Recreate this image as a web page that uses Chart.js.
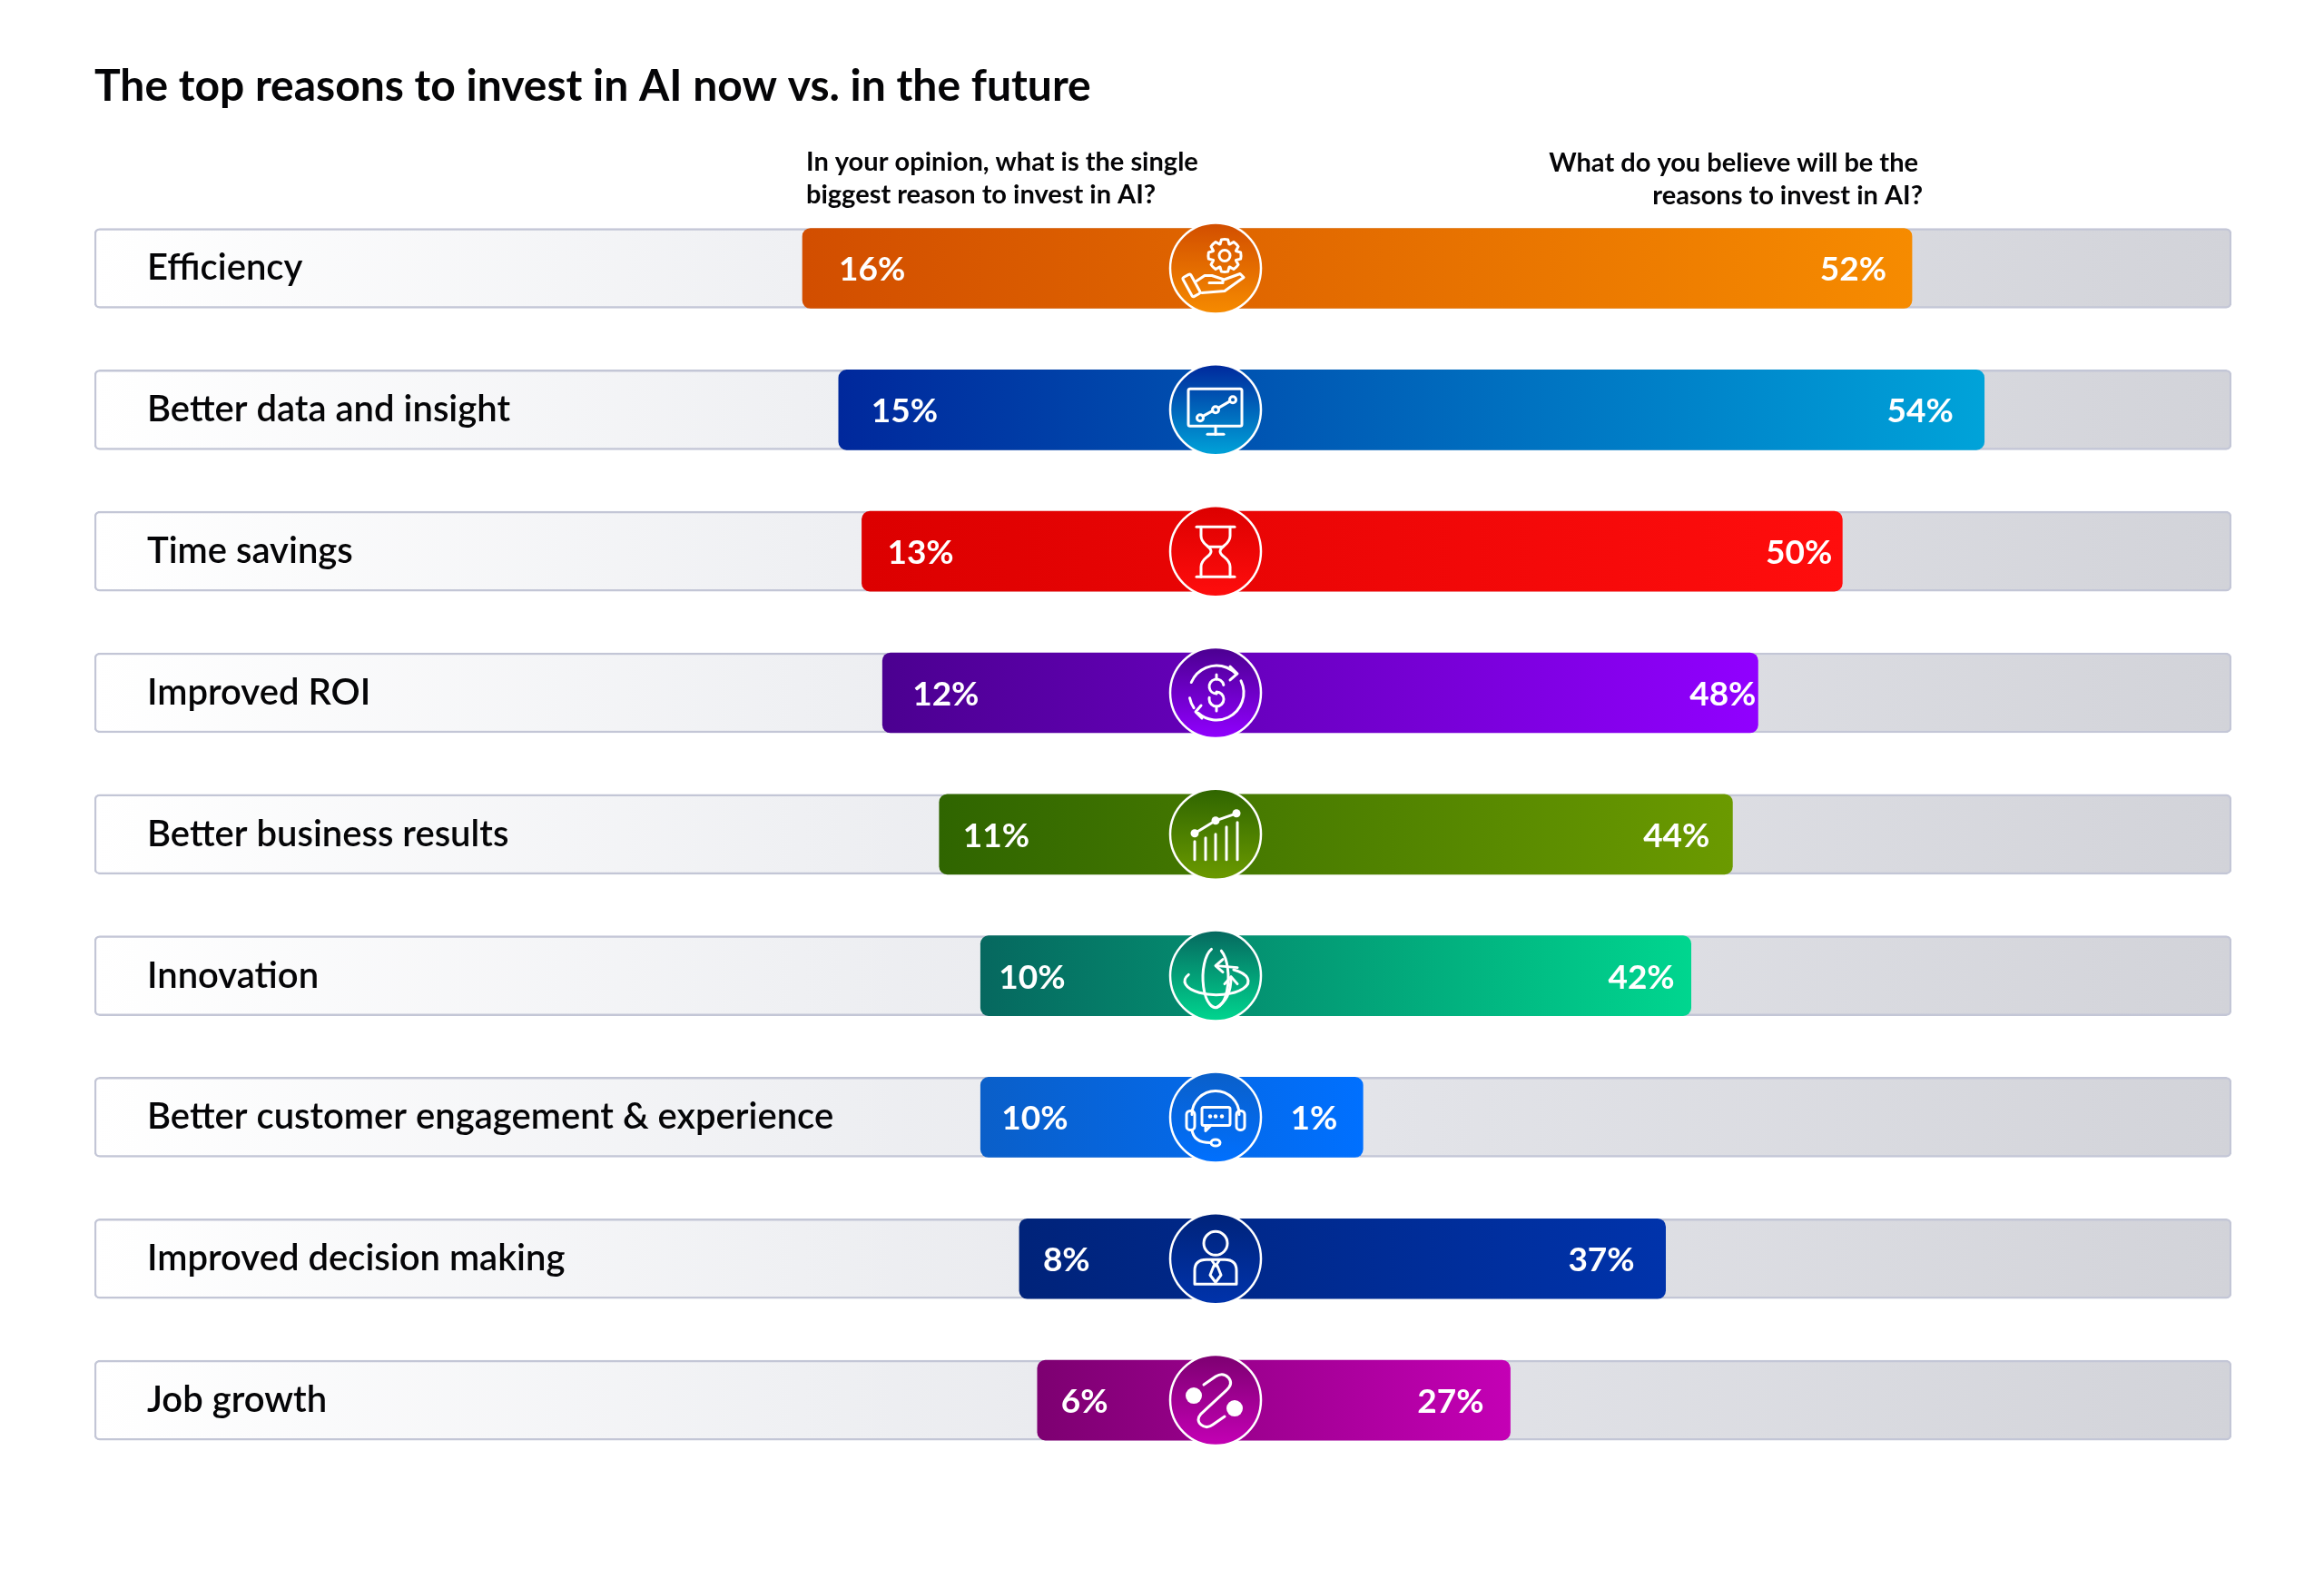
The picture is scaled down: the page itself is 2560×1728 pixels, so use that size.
<!DOCTYPE html>
<html>
<head>
<meta charset="utf-8">
<title>The top reasons to invest in AI now vs. in the future</title>
<script src="https://cdn.jsdelivr.net/npm/chart.js@4"></script>
<style>
    html, body { margin: 0; padding: 0; background: #fff; }
    canvas { display: block; }
</style>
</head>
<body>
<canvas id="chart" width="2560" height="1728"></canvas>
<script>
const categories = [
    "Efficiency",
    "Better data and insight",
    "Time savings",
    "Improved ROI",
    "Better business results",
    "Innovation",
    "Better customer engagement & experience",
    "Improved decision making",
    "Job growth"
];

// printed percentages
const nowLabels = [16, 15, 13, 12, 11, 10, 10, 8, 6];
const futureLabels = [52, 54, 50, 48, 44, 42, 1, 37, 27];

// the infographic's bars are not to scale with what is printed on them,
// so these are the bar lengths, in axis units
const nowBars = [16, 14.6, 13.7, 12.9, 10.7, 9.1, 9.1, 7.6, 6.9];
const futureBars = [52, 57.4, 46.8, 40.5, 38.6, 35.5, 11, 33.6, 22];

const nowQuestion = ["In your opinion, what is the single", "biggest reason to invest in AI?"];
const futureQuestion = ["What do you believe will be the", "reasons to invest in AI?"];

// styles, one per row
const startColors = ["#d24e00", "#00289c", "#dc0000", "#4b0090", "#2f6500", "#06685f", "#0a5fc9", "#00237a", "#7d0071"];
const endColors = ["#f68b00", "#00a3d9", "#ff0d0d", "#9100ff", "#6b9a00", "#00d68f", "#0070ff", "#0033ab", "#c400b5"];
const nowInset = [40, 36, 28, 33, 26, 20, 23, 26, 26];
const futureInset = [28, 34, 11, 2, 25, 18, 28, 34, 29];

const FONT = "Lato, 'Noto Sans', sans-serif";
const INK = "#050507";

// axis limits: both axes share the same zero, the "future" side is drawn at about half the scale
const NOW_MIN = -43.43, NOW_MAX = 39.35;
const FUT_MIN = -83.73, FUT_MAX = 75.86;

function barGradient(context) {
    const chart = context.chart;
    const i = context.dataIndex;
    if (i === undefined || !chart.scales.x) return startColors[0];
    const x0 = chart.scales.x.getPixelForValue(-nowBars[i]);
    const x1 = chart.scales.xFuture.getPixelForValue(futureBars[i]);
    if (!Number.isFinite(x0) || !Number.isFinite(x1)) return startColors[i];
    const g = chart.ctx.createLinearGradient(x0, 0, x1, 0);
    g.addColorStop(0, startColors[i]);
    g.addColorStop(1, endColors[i]);
    return g;
}

function trackGradient(context) {
    const area = context.chart.chartArea;
    if (!area || !Number.isFinite(area.left)) return "#e4e5ea";
    const g = context.chart.ctx.createLinearGradient(area.left, 0, area.right, 0);
    g.addColorStop(0, "#ffffff");
    g.addColorStop(0.33, "#eff0f3");
    g.addColorStop(0.6, "#e3e4e9");
    g.addColorStop(1, "#d2d3d9");
    return g;
}

// icon drawing, local coordinates around the circle centre
function line(c, pts) {
    c.beginPath();
    pts.forEach((p, k) => k ? c.lineTo(p[0], p[1]) : c.moveTo(p[0], p[1]));
    c.stroke();
}
function ring(c, x, y, r) {
    c.beginPath();
    c.arc(x, y, r, 0, Math.PI * 2);
    c.stroke();
}
function dot(c, x, y, r) {
    c.beginPath();
    c.arc(x, y, r, 0, Math.PI * 2);
    c.fill();
}
function box(c, x, y, w, h, r) {
    c.beginPath();
    c.roundRect(x, y, w, h, r);
    c.stroke();
}

const icons = [
    function gearHand(c) {
        ring(c, 10, -14, 6);
        c.save();
        c.translate(10, -14);
        c.beginPath();
        for (let k = 0; k < 8; k++) {
            const a = k * Math.PI / 4;
            const w = 0.2;
            c.arc(0, 0, 18, a - w, a + w);
            c.arc(0, 0, 13.5, a + w + 0.18, a + Math.PI / 4 - w - 0.18);
        }
        c.closePath();
        c.stroke();
        c.restore();
        c.save();
        c.translate(-27, 18);
        c.rotate(-0.5);
        box(c, -5, -11, 10, 24, 2);
        c.restore();
        line(c, [[-21, 14], [-12, 8], [-4, 8], [8, 12], [8, 16], [-7, 16]]);
        line(c, [[8, 13], [27, 6], [31, 10], [10, 25], [-15, 27]]);
    },
    function monitor(c) {
        box(c, -30, -23, 59, 41, 2);
        line(c, [[0, 18], [0, 27]]);
        line(c, [[-9, 27], [9, 27]]);
        line(c, [[-14, 7], [-3, 1]]);
        line(c, [[3, -2], [15, -9]]);
        ring(c, -17, 9, 3.5);
        ring(c, 0, 0, 3.5);
        ring(c, 19, -11, 3.5);
    },
    function hourglass(c) {
        line(c, [[-21, -27], [21, -27]]);
        line(c, [[-21, 28], [21, 28]]);
        [-1, 1].forEach(s => {
            c.beginPath();
            c.moveTo(s * 16, -27);
            c.lineTo(s * 16, -17);
            c.bezierCurveTo(s * 16, -7, s * 5, -6, s * 5, 0);
            c.bezierCurveTo(s * 5, 6, s * 16, 7, s * 16, 17);
            c.lineTo(s * 16, 28);
            c.stroke();
        });
        line(c, [[-8, -5], [8, -5]]);
    },
    function dollar(c) {
        c.beginPath();
        c.arc(1, 0, 30, -2.75, -0.75);
        c.stroke();
        c.beginPath();
        c.arc(1, 0, 30, -0.45, 2.3);
        c.stroke();
        c.beginPath();
        c.arc(1, 0, 30, 2.55, 2.95);
        c.stroke();
        line(c, [[16, -29], [24, -21], [16, -14]]);
        line(c, [[-16, 14], [-22, 21], [-15, 28]]);
        // the S of the dollar sign
        c.beginPath();
        c.arc(1, -7, 8, -0.2, Math.PI / 2, true);
        c.arc(1, 7, 8, -Math.PI / 2, Math.PI + 0.2);
        c.stroke();
        line(c, [[1, -20], [1, -15]]);
        line(c, [[1, 15], [1, 20]]);
    },
    function growth(c) {
        [[-23, 8], [-11, 4], [0, 0], [12, -8], [24, -13]].forEach(b => line(c, [[b[0], 28], [b[0], b[1]]]));
        line(c, [[-23, -1], [0, -15], [23, -23]]);
        dot(c, -23, -1, 4.5);
        dot(c, 0, -15, 4.5);
        dot(c, 23, -23, 4.5);
    },
    function orbit(c) {
        // upright ring, open at the upper right
        c.beginPath();
        c.ellipse(0, 2, 14, 33, 0, -1.1, Math.PI * 2 - 1.9);
        c.stroke();
        // flat ring, open at the upper left
        c.beginPath();
        c.ellipse(1, 6, 35, 15, 0, -1.0, Math.PI + 0.5);
        c.stroke();
        line(c, [[24, -9], [1, -11]]);
        line(c, [[8, -18], [0, -11], [8, -4]]);
        c.beginPath();
        c.moveTo(1, 35);
        c.quadraticCurveTo(17, 26, 17, 2);
        c.stroke();
        line(c, [[10, 9], [17, 1], [24, 9]]);
    },
    function headset(c) {
        c.beginPath();
        c.arc(0, -3, 26, Math.PI, 0);
        c.stroke();
        box(c, -32, -7, 9, 21, 4);
        box(c, 23, -7, 9, 21, 4);
        box(c, -15, -11, 31, 20, 2);
        line(c, [[-11, 9], [-11, 15], [-5, 9]]);
        dot(c, -6, -1, 2.2);
        dot(c, 0, -1, 2.2);
        dot(c, 7, -1, 2.2);
        c.beginPath();
        c.moveTo(-26, 14);
        c.quadraticCurveTo(-24, 28, -6, 28);
        c.stroke();
        c.beginPath();
        c.ellipse(0, 28, 5, 3.5, 0, 0, Math.PI * 2);
        c.stroke();
    },
    function person(c) {
        ring(c, 0, -17, 13);
        c.beginPath();
        c.moveTo(-23, 28);
        c.lineTo(-23, 13);
        c.quadraticCurveTo(-23, 1, -10, 1);
        c.lineTo(10, 1);
        c.quadraticCurveTo(23, 1, 23, 13);
        c.lineTo(23, 28);
        c.closePath();
        c.stroke();
        line(c, [[-4, 2], [0, 8], [4, 2]]);
        line(c, [[-2, 8], [-6, 18], [0, 26], [6, 18], [2, 8]]);
    },
    function pathLink(c) {
        dot(c, -24, -5, 9);
        dot(c, 21, 9, 9);
        c.beginPath();
        c.moveTo(-13, -17);
        c.lineTo(0, -26);
        c.quadraticCurveTo(8, -31, 14, -25);
        c.quadraticCurveTo(20, -18, 12, -11);
        c.lineTo(-16, 15);
        c.quadraticCurveTo(-22, 22, -16, 27);
        c.quadraticCurveTo(-10, 32, -3, 27);
        c.lineTo(10, 18);
        c.stroke();
    }
];

const overlayPlugin = {
    id: "overlay",
    afterDatasetsDraw(chart) {
        const c = chart.ctx;
        const xNow = chart.scales.x;
        const xFut = chart.scales.xFuture;
        const y = chart.scales.y;
        const cx = xNow.getPixelForValue(0);

        // question headers
        c.save();
        c.fillStyle = INK;
        c.font = "700 29px " + FONT;
        c.textBaseline = "middle";
        c.textAlign = "left";
        nowQuestion.forEach((t, k) => c.fillText(t, 888, 179 + k * 36));
        c.textAlign = "right";
        c.fillText(futureQuestion[0], 2113, 180);
        c.fillText(futureQuestion[1], 2118, 216);
        c.restore();

        categories.forEach((name, i) => {
            const py = y.getPixelForValue(i);

            // percentages
            c.save();
            c.fillStyle = "#fff";
            c.font = "700 37px " + FONT;
            c.textBaseline = "middle";
            c.textAlign = "left";
            c.fillText(nowLabels[i] + "%", xNow.getPixelForValue(-nowBars[i]) + nowInset[i], py + 2);
            c.textAlign = "right";
            c.fillText(futureLabels[i] + "%", xFut.getPixelForValue(futureBars[i]) - futureInset[i], py + 2);
            c.restore();

            // centre badge
            c.save();
            c.translate(cx, py);
            const g = c.createLinearGradient(0, -50, 0, 50);
            g.addColorStop(0, startColors[i]);
            g.addColorStop(1, endColors[i]);
            c.fillStyle = g;
            c.strokeStyle = "#fff";
            c.lineWidth = 2.5;
            c.beginPath();
            c.arc(0, 0, 50, 0, Math.PI * 2);
            c.fill();
            c.stroke();
            c.fillStyle = "#fff";
            c.lineWidth = 3;
            c.lineJoin = "round";
            c.lineCap = "round";
            icons[i](c);
            c.restore();
        });
    }
};

new Chart(document.getElementById("chart"), {
    type: "bar",
    plugins: [overlayPlugin],
    data: {
        labels: categories,
        datasets: [
            {
                label: "Now",
                data: nowBars.map(v => [-v, 0]),
                xAxisID: "x",
                order: 1,
                backgroundColor: barGradient,
                borderRadius: { topLeft: 9, bottomLeft: 9, topRight: 0, bottomRight: 0 },
                borderSkipped: false
            },
            {
                label: "In the future",
                data: futureBars.map(v => [0, v]),
                xAxisID: "xFuture",
                order: 1,
                backgroundColor: barGradient,
                borderRadius: { topLeft: 0, bottomLeft: 0, topRight: 9, bottomRight: 9 },
                borderSkipped: false
            },
            {
                label: "Track",
                data: categories.map(() => [NOW_MIN, NOW_MAX]),
                xAxisID: "x",
                order: 2,
                backgroundColor: trackGradient,
                borderColor: "#c3c6d6",
                borderWidth: 2.5,
                borderRadius: 6,
                borderSkipped: false
            }
        ]
    },
    options: {
        indexAxis: "y",
        responsive: false,
        animation: false,
        devicePixelRatio: 1,
        layout: { padding: { left: 104, right: 102, top: 0, bottom: 108 } },
        datasets: { bar: { grouped: false, barThickness: 88 } },
        plugins: {
            legend: { display: false },
            tooltip: { enabled: false },
            title: {
                display: true,
                text: "The top reasons to invest in AI now vs. in the future",
                align: "start",
                color: INK,
                font: { family: FONT, size: 48, weight: "700", lineHeight: 1.2 },
                padding: { top: 67, bottom: 93 }
            }
        },
        scales: {
            x: { axis: "x", display: false, min: NOW_MIN, max: NOW_MAX },
            xFuture: { axis: "x", display: false, min: FUT_MIN, max: FUT_MAX },
            y: {
                grid: { display: false },
                border: { display: false },
                afterFit(scale) { scale.width = 0; },
                ticks: {
                    z: 1,
                    mirror: true,
                    padding: 58,
                    color: INK,
                    font: { family: FONT, size: 40, weight: "600" }
                }
            }
        }
    }
});
</script>
</body>
</html>
